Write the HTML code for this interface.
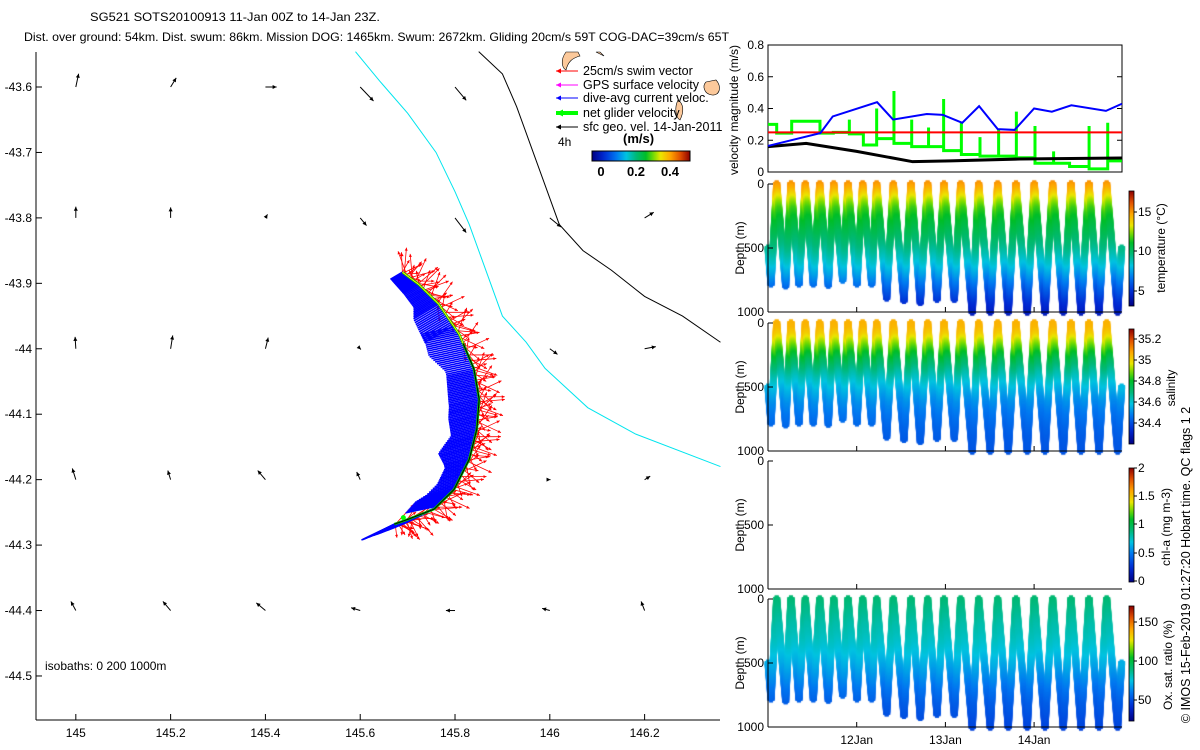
<!DOCTYPE html>
<html><head><meta charset="utf-8">
<style>
html,body{margin:0;padding:0;background:#fff;}
#wrap{position:relative;width:1200px;height:750px;overflow:hidden;}
canvas,svg{position:absolute;left:0;top:0;}
text{font-family:"Liberation Sans",sans-serif;font-size:12px;fill:#000;}
</style></head>
<body>
<div id="wrap">
<canvas id="cv" width="1200" height="750"></canvas>
<svg id="sv" width="1200" height="750" xmlns="http://www.w3.org/2000/svg">
<text x="90" y="21" textLength="290" lengthAdjust="spacingAndGlyphs">SG521 SOTS20100913 11-Jan 00Z to 14-Jan 23Z.</text>
<text x="24" y="41" textLength="705" lengthAdjust="spacingAndGlyphs">Dist. over ground: 54km. Dist. swum: 86km. Mission DOG: 1465km. Swum: 2672km. Gliding 20cm/s 59T COG-DAC=39cm/s 65T</text>
<g id="map"></g>
<g id="right"></g>
</svg>
</div>
<script>
// ---------- DATA ----------
const gridLons=[145,145.2,145.4,145.6,145.8,146.0,146.2];
const gridLats=[-43.6,-43.8,-44.0,-44.2,-44.4];
const geoU=[[0.04,0.08,0.16,0.19,0.16,null,null],
            [0.0,0.0,0.03,0.09,0.16,0.16,0.13],
            [-0.01,0.03,0.04,0.01,null,0.11,0.16],
            [-0.05,-0.04,-0.11,-0.05,null,0.01,0.08],
            [-0.07,-0.11,-0.13,-0.13,-0.13,-0.11,-0.05]];
const geoV=[[0.19,0.13,0.0,-0.2,-0.19,null,null],
            [0.16,0.15,0.05,-0.11,-0.21,-0.13,0.08],
            [0.17,0.19,0.16,-0.01,null,-0.08,0.03],
            [0.16,0.13,0.13,0.11,null,0.0,0.05],
            [0.13,0.13,0.11,0.04,0.0,0.03,0.13]];
const trackLon=[145.689,145.724,145.766,145.809,145.840,145.851,145.846,145.830,145.798,145.756,145.703,145.672];
const trackLat=[-43.883,-43.902,-43.932,-43.978,-44.031,-44.077,-44.123,-44.169,-44.215,-44.245,-44.260,-44.268];
const iso0Lon=[145.59,145.64,145.70,145.76,145.80,145.83,145.86,145.90,145.95,145.99,146.08,146.18,146.36];
const iso0Lat=[-43.546,-43.59,-43.64,-43.70,-43.76,-43.81,-43.87,-43.95,-43.99,-44.03,-44.09,-44.13,-44.18];
const iso1Lon=[145.85,145.90,145.93,145.96,145.99,146.02,146.07,146.13,146.20,146.28,146.36];
const iso1Lat=[-43.546,-43.58,-43.63,-43.69,-43.75,-43.81,-43.85,-43.88,-43.92,-43.95,-43.99];
const blueDays=[0,0.59,0.73,1.23,1.41,1.79,1.97,2.19,2.38,2.59,2.78,3.0,3.2,3.42,3.81,3.99];
const blueVals=[0.164,0.245,0.35,0.44,0.33,0.365,0.36,0.31,0.415,0.27,0.265,0.40,0.38,0.42,0.385,0.43];
const blackDays=[0,0.43,1.0,1.34,1.63,2.06,2.84,3.99];
const blackVals=[0.16,0.18,0.13,0.095,0.065,0.07,0.082,0.088];
const redVal=0.25;
const greenEdges=[0,0.098,0.267,0.586,0.736,0.917,1.075,1.225,1.42,1.62,1.81,1.98,2.18,2.39,2.60,2.80,3.01,3.22,3.40,3.62,3.83,3.99];
const greenVals=[0.30,0.245,0.32,0.245,0.25,0.24,0.17,0.21,0.18,0.16,0.16,0.135,0.11,0.10,0.10,0.09,0.055,0.055,0.035,0.02,0.07];
const greenSpikes=[0.30,0.30,0.32,0.32,0.25,0.33,0.24,0.40,0.51,0.33,0.28,0.46,0.31,0.22,0.27,0.38,0.29,0.13,0.055,0.29,0.31,0.07];
const turnDays=[0.0,0.034,0.098,0.199,0.259,0.349,0.421,0.511,0.583,0.680,0.741,0.842,0.902,1.003,1.067,1.169,1.225,1.338,1.413,1.533,1.612,1.717,1.800,1.905,1.984,2.101,2.172,2.303,2.375,2.506,2.589,2.709,2.796,2.923,3.002,3.123,3.209,3.329,3.416,3.529,3.619,3.732,3.818,3.942,3.987];
const turnDepths=[500,780,0,795,0,780,0,780,0,790,0,750,0,780,0,780,0,890,0,910,0,925,0,900,0,900,0,1000,0,1000,0,1000,0,1000,0,1000,0,1000,0,1000,0,1000,0,1000,500];
const profDepth=[0,50,100,150,200,300,400,500,600,700,800,900,1000];
const tempVals=[15.2,14.6,13.6,12.6,11.8,10.9,10.2,9.5,8.6,7.5,6.3,5.2,4.4];
const saltVals=[35.05,35.04,35.0,34.92,34.85,34.72,34.63,34.56,34.50,34.46,34.43,34.41,34.40];
const oxyVals=[90,88,86,84,82,79,75,70,64,58,53,50,47];
const latTicks=[-43.6,-43.7,-43.8,-43.9,-44,-44.1,-44.2,-44.3,-44.4,-44.5];
const lonTicks=[145,145.2,145.4,145.6,145.8,146,146.2];
const velTicks=[0,0.2,0.4,0.6,0.8];
const depthTicks=[0,500,1000];
const dateTicks=[1,2,3];
const dateLabels=['12Jan','13Jan','14Jan'];

// ---------- helpers ----------
const NS='http://www.w3.org/2000/svg';
function el(tag,attrs,parent,txt){const e=document.createElementNS(NS,tag);for(const k in attrs)e.setAttribute(k,attrs[k]);if(txt!==undefined)e.textContent=txt;parent.appendChild(e);return e;}
const lx=lon=>36+(lon-144.916)*474;
const ly=lat=>52+(-43.5465-lat)*654.4;
const tx=d=>768+d*88.7;
const vy=v=>172-v*158.75;
const panelTops=[184,323,461,599];
const PH=128;
const cmS=[0,0.12,0.25,0.35,0.45,0.55,0.63,0.7,0.8,0.9,1];
const cmC=[[0,0,130],[0,40,210],[0,120,240],[0,195,225],[0,185,120],[0,190,40],[120,220,0],[235,230,0],[255,165,0],[225,80,0],[140,0,0]];
function jet(f){f=Math.max(0,Math.min(1,f));let i=1;while(i<cmS.length-1&&f>cmS[i])i++;const t=(f-cmS[i-1])/(cmS[i]-cmS[i-1]);const a=cmC[i-1],b=cmC[i];return 'rgb('+Math.round(a[0]+t*(b[0]-a[0]))+','+Math.round(a[1]+t*(b[1]-a[1]))+','+Math.round(a[2]+t*(b[2]-a[2]))+')';}
function interp(xs,ys,x){if(x<=xs[0])return ys[0];for(let i=1;i<xs.length;i++){if(x<=xs[i]){const t=(x-xs[i-1])/(xs[i]-xs[i-1]);return ys[i-1]+t*(ys[i]-ys[i-1]);}}return ys[ys.length-1];}
function arrow(g,x1,y1,x2,y2,col,w,hs,name){
  const a=el('line',{x1:x1,y1:y1,x2:x2,y2:y2,stroke:col,'stroke-width':w},g);
  
  
  const dx=x2-x1,dy=y2-y1,L=Math.hypot(dx,dy)||1,ux=dx/L,uy=dy/L;
  const p=[x2,y2,x2-ux*hs-uy*hs*0.5,y2-uy*hs+ux*hs*0.5,x2-ux*hs+uy*hs*0.5,y2-uy*hs-ux*hs*0.5];
  const h=el('polygon',{points:p.join(','),fill:col},g);
  
  
}

// ---------- MAP ----------
const map=document.getElementById('map');
el('line',{x1:36,y1:52,x2:36,y2:720,stroke:'#000','stroke-width':1},map);
el('line',{x1:36,y1:720,x2:720,y2:720,stroke:'#000','stroke-width':1},map);
latTicks.forEach(v=>{const y=ly(v);
  const t=el('line',{x1:36,y1:y,x2:42,y2:y,stroke:'#000'},map);
  const l=el('text',{x:32,y:y+4,'text-anchor':'end'},map,String(v));});
lonTicks.forEach(v=>{const x=lx(v);
  const t=el('line',{x1:x,y1:720,x2:x,y2:714,stroke:'#000'},map);
  const l=el('text',{x:x,y:737,'text-anchor':'middle'},map,String(v));});
function polyl(lons,lats,col,name){const pts=lons.map((o,i)=>lx(o)+','+ly(lats[i])).join(' ');const p=el('polyline',{points:pts,fill:'none',stroke:col,'stroke-width':1},map);}
polyl(iso0Lon,iso0Lat,'#00e5ee','isobath-200m');
polyl(iso1Lon,iso1Lat,'#000','isobath-1000m');
[['M566,52 C560,60 562,68 566,70 C568,62 572,58 580,56 L578,52 Z'],['M706,82 C702,86 704,94 712,95 C720,96 722,86 716,80 Z'],['M678,100 C674,108 676,118 680,120 C684,112 684,104 678,100 Z'],['M596,52 L604,56 L600,52 Z']].forEach(d=>{const p=el('path',{d:d[0],fill:'#fcc99b',stroke:'#000','stroke-width':0.6},map);});
const GS=70;
gridLats.forEach((la,i)=>gridLons.forEach((lo,j)=>{const u=geoU[i][j],v=geoV[i][j];if(u===null)return;
  const x=lx(lo),y=ly(la);arrow(map,x,y,x+u*GS,y-v*GS,'#000',1,4,'geo-velocity-arrow');}));
const N=200;const tpx=[],tpy=[];
for(let k=0;k<N;k++){const s=k/(N-1)*(trackLon.length-1);const i=Math.min(Math.floor(s),trackLon.length-2),f=s-i;
  tpx.push(lx(trackLon[i]+f*(trackLon[i+1]-trackLon[i])));tpy.push(ly(trackLat[i]+f*(trackLat[i+1]-trackLat[i])));}
// red swim vectors
const swimAng=[-20,15,-45,35,5,-70,60,-10,25,-35,80,-55,10,40,-25,-80,50,0,-60,30,-5,70,-30,20];
const gRed=el('g',{},map);
for(let k=0;k<N;k++){const a=swimAng[k%swimAng.length]*Math.PI/180;const base=k<N*0.12?-0.7:(k>N*0.85?0.4:0);
  const ax=Math.cos(a+base),ay=Math.sin(a+base);const L=14+(k%3)*6;
  arrow(gRed,tpx[k],tpy[k],tpx[k]+ax*L,tpy[k]+ay*L,'#ff0000',0.8,3,'swim-vector');}
arrow(gRed,tpx[0],tpy[0],tpx[0]-1,tpy[0]-20,'#ff0000',0.8,4,'swim-vector');
// blue dive-avg current vectors
const gBlue=el('g',{},map);
for(let k=0;k<N;k++){const d=k/(N-1)*3.99;const m=interp(blueDays,blueVals,d);const L=m*85;
  const dx=-0.93,dy=k/N<0.25?0.55:(k/N>0.8?0.45:0.2);const n=Math.hypot(dx,dy);
  const ln=el('line',{x1:tpx[k],y1:tpy[k],x2:tpx[k]+dx/n*L,y2:tpy[k]+dy/n*L,stroke:'#0000ff','stroke-width':1.6},gBlue);
  }
const tl=el('polyline',{points:tpx.map((x,i)=>x+','+tpy[i]).join(' '),fill:'none',stroke:'#00cc00','stroke-width':2.5},map);
const tl2=el('polyline',{points:tpx.map((x,i)=>x+','+tpy[i]).join(' '),fill:'none',stroke:'#000','stroke-width':1},map);
const yl=el('polyline',{points:tpx.slice(0,60).map((x,i)=>x+','+tpy[i]).join(' '),fill:'none',stroke:'#ffff00','stroke-width':1},map);
el('circle',{cx:lx(145.691),cy:ly(-44.258),r:2.5,fill:'#00ff00'},map);
el('text',{x:45,y:670},map,'isobaths: 0   200   1000m');
const leg=[['#ff0000','25cm/s swim vector',71,1],['#ff00ff','GPS surface velocity',85,1],['#0000ff','dive-avg current veloc.',98,1],['#00ff00','net glider velocity',113,4],['#000','sfc geo. vel. 14-Jan-2011',127,1]];
const gl=el('g',{},map);
leg.forEach(r=>{arrow(gl,578,r[2],556,r[2],r[0],r[3],r[3]>1?7:5,'legend-arrow');
  const t=el('text',{x:583,y:r[2]+4,style:'font-size:12.5px'},gl,r[1]);});
el('text',{x:558,y:146},gl,'4h');
el('text',{x:623,y:143,style:'font-weight:bold;font-size:13px'},gl,'(m/s)');
const defs=el('defs',{},document.getElementById('sv'));
const lg=el('linearGradient',{id:'jetH',x1:0,y1:0,x2:1,y2:0},defs);
const lgv=el('linearGradient',{id:'jetV',x1:0,y1:1,x2:0,y2:0},defs);
for(let i=0;i<=20;i++){el('stop',{offset:i/20,'stop-color':jet(i/20)},lg);el('stop',{offset:i/20,'stop-color':jet(i/20)},lgv);}
el('rect',{x:592,y:151,width:98,height:10,fill:'url(#jetH)',stroke:'#000','stroke-width':1},gl);
[['0',601],['0.2',636],['0.4',670]].forEach(a=>{const t=el('text',{x:a[1],y:176,'text-anchor':'middle',style:'font-weight:bold;font-size:13px'},gl,a[0]);});

// ---------- RIGHT PANELS ----------
const R=document.getElementById('right');
const gv=el('g',{},R);
el('rect',{x:768,y:45,width:354,height:127,fill:'none',stroke:'#000'},gv);
velTicks.forEach(v=>{const y=vy(v);el('line',{x1:768,y1:y,x2:773,y2:y,stroke:'#000'},gv);el('line',{x1:1122,y1:y,x2:1117,y2:y,stroke:'#000'},gv);
  const t=el('text',{x:764,y:y+4,'text-anchor':'end'},gv,String(v));});
const vt=el('text',{transform:'translate(738,110) rotate(-90)','text-anchor':'middle'},gv,'velocity magnitude (m/s)');
let gp=[];for(let i=0;i<greenVals.length;i++){const x0=tx(greenEdges[i]),x1=tx(greenEdges[i+1]);gp.push(x0+','+vy(greenSpikes[i]));gp.push(x0+','+vy(greenVals[i]));gp.push(x1+','+vy(greenVals[i]));}
gp.push(tx(greenEdges[greenEdges.length-1])+','+vy(greenSpikes[greenSpikes.length-1]));
const gg=el('polyline',{points:gp.join(' '),fill:'none',stroke:'#00ff00','stroke-width':3},gv);
const rl=el('line',{x1:768,y1:vy(redVal),x2:1122,y2:vy(redVal),stroke:'#ff0000','stroke-width':2},gv);
const bl=el('polyline',{points:blackDays.map((d,i)=>tx(d)+','+vy(blackVals[i])).join(' '),fill:'none',stroke:'#000','stroke-width':3},gv);
const bu=el('polyline',{points:blueDays.map((d,i)=>tx(d)+','+vy(blueVals[i])).join(' '),fill:'none',stroke:'#0000ff','stroke-width':2},gv);

const panels=[
 {name:'temperature',vals:tempVals,min:3.2,max:17.8,cb:[191,306],ticks:[[15,212],[10,251],[5,291]],title:'temperature (°C)',tx:1165,ty:248},
 {name:'salinity',vals:saltVals,min:34.19,max:35.29,cb:[329,444],ticks:[[35.2,339],[35,360],[34.8,381],[34.6,402],[34.4,423]],title:'salinity',tx:1175,ty:388},
 {name:'chlorophyll',vals:null,min:0,max:2,cb:[468,582],ticks:[[2,468],[1.5,496],[1,524],[0.5,553],[0,581]],title:'chl-a (mg m-3)',tx:1170,ty:527},
 {name:'oxygen',vals:oxyVals,min:23,max:169,cb:[606,721],ticks:[[150,622],[100,661],[50,700]],title:'Ox. sat. ratio (%)',tx:1172,ty:665}];
const ctx=document.getElementById('cv').getContext('2d');
panels.forEach((p,pi)=>{const top=panelTops[pi];const dy=d=>top+d*PH/1000;
  const g=el('g',{},R);
  el('line',{x1:768,y1:top,x2:768,y2:top+PH,stroke:'#000'},g);
  el('line',{x1:768,y1:top+PH,x2:1122,y2:top+PH,stroke:'#000'},g);
  depthTicks.forEach(v=>{const y=dy(v);el('line',{x1:768,y1:y,x2:773,y2:y,stroke:'#000'},g);
    const t=el('text',{x:764,y:y+4,'text-anchor':'end'},g,String(v));});
  dateTicks.forEach(d=>{el('line',{x1:tx(d),y1:top+PH,x2:tx(d),y2:top+PH-5,stroke:'#000'},g);});
  const dt=el('text',{transform:'translate(744,'+(top+PH/2)+') rotate(-90)','text-anchor':'middle'},g,'Depth (m)');
  const cb=el('rect',{x:1129,y:p.cb[0],width:5,height:p.cb[1]-p.cb[0],fill:'url(#jetV)',stroke:'#000','stroke-width':0.8},g);
  p.ticks.forEach(t=>{el('line',{x1:1134,y1:t[1],x2:1137,y2:t[1],stroke:'#000'},g);
    const l=el('text',{x:1138,y:t[1]+4,style:'font-size:12px'},g,String(t[0]));});
  const ct=el('text',{transform:'translate('+p.tx+','+p.ty+') rotate(-90)','text-anchor':'middle',style:'font-size:12px'},g,p.title);
  if(!p.vals)return;
  for(let i=0;i<turnDays.length-1;i++){const d0=turnDays[i],d1=turnDays[i+1],z0=turnDepths[i],z1=turnDepths[i+1];
    const n=Math.max(8,Math.round(Math.abs(z1-z0)/8));
    for(let k=0;k<=n;k++){const f=k/n;const d=d0+f*(d1-d0),z=z0+f*(z1-z0);
      const v=interp(profDepth,p.vals,z);ctx.fillStyle=jet((v-p.min)/(p.max-p.min));
      ctx.fillRect(tx(d)-3.5,dy(z)-2,7,4);ctx.fillRect(tx(d)-2,dy(z)-3.5,4,7);}}
});
dateTicks.forEach((d,i)=>{const t=el('text',{x:tx(d),y:744,'text-anchor':'middle'},R,dateLabels[i]);});
const cp=el('text',{transform:'translate(1190,565) rotate(-90)','text-anchor':'middle',style:'font-size:12.5px'},R,'© IMOS 15-Feb-2019 01:27:20 Hobart time. QC flags 1  2');
</script>
</body></html>
